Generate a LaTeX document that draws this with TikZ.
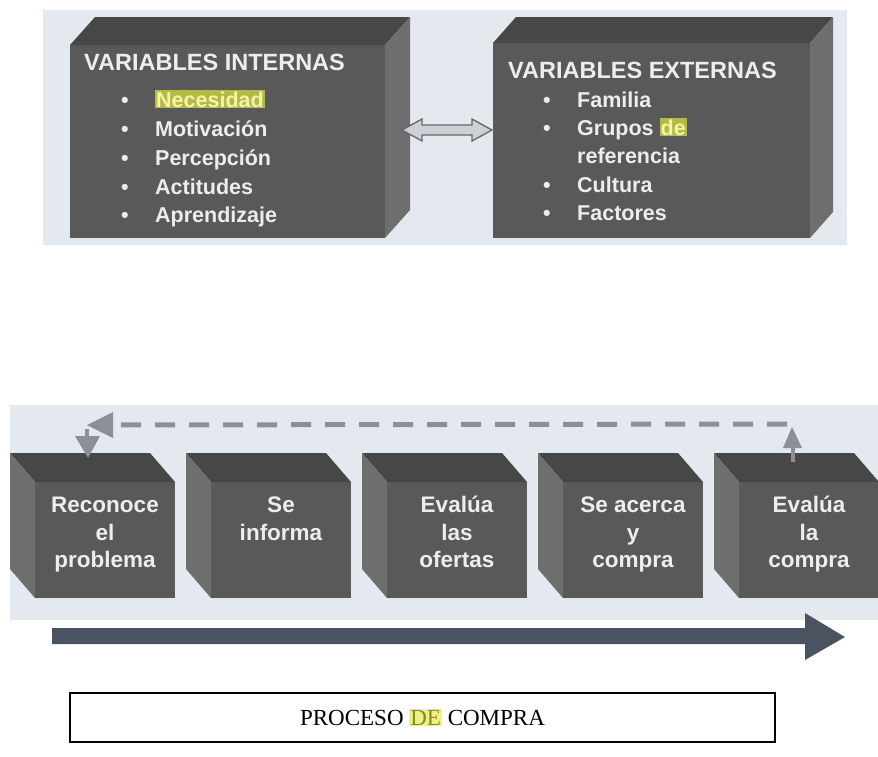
\documentclass[tikz,border=0pt]{standalone}
\usepackage{fontspec}
\setmainfont{Liberation Sans}
\newfontfamily\labelserif{Liberation Serif}
\usetikzlibrary{calc}
\definecolor{panel}{HTML}{E4E9F0}
\definecolor{frontc}{HTML}{595959}
\definecolor{topc}{HTML}{474747}
\definecolor{sidec}{HTML}{6E6E6E}
\definecolor{txtc}{HTML}{EDEDED}
\definecolor{hlbg}{HTML}{B6B84A}
\definecolor{hltx}{HTML}{F2F5A6}
\definecolor{hlbgB}{HTML}{F0F08A}
\definecolor{hltxB}{HTML}{8A8A1E}
\definecolor{fbc}{HTML}{8C9096}
\definecolor{bigarr}{HTML}{4B5362}
\definecolor{darr}{HTML}{CDD1D6}
\newcommand\hlword[3]{{\setlength{\fboxsep}{1pt}\colorbox{#1}{\color{#2}#3}}}
\begin{document}
\begin{tikzpicture}[x=1pt,y=-1pt,
  front/.style={fill=frontc, draw=none, inner sep=0pt, outer sep=0pt},
  toptxt/.style={text=txtc, font=\bfseries\fontsize{23.5}{28}\selectfont, inner sep=0pt, anchor=base west},
  itemtxt/.style={text=txtc, font=\bfseries\fontsize{21.5}{26}\selectfont, inner sep=0pt, anchor=base west},
  bul/.style={text=txtc, font=\bfseries\fontsize{21.5}{26}\selectfont, inner sep=0pt, anchor=base},
  boxtxt/.style={text=txtc, font=\bfseries\fontsize{22.5}{27}\selectfont, inner sep=0pt, anchor=base},
]
\useasboundingbox (0,0) rectangle (878,756);
\fill[white] (0,0) rectangle (878,756);
% panels
\fill[panel] (43,10) rectangle (847,245);
\fill[panel] (10,405) rectangle (878,620);

% ---- top boxes ----
\node[front, minimum width=315pt, minimum height=193pt] (vi) at (227.5,141.5) {};
\fill[topc] (vi.north west) -- (vi.north east) -- ++(25,-28) -- ++(-315,0) -- cycle;
\fill[sidec] (vi.north east) -- ++(25,-28) -- ++(0,193) -- (vi.south east) -- cycle;

\node[front, minimum width=317pt, minimum height=195pt] (ve) at (651.5,140.5) {};
\fill[topc] (ve.north west) -- (ve.north east) -- ++(23,-26) -- ++(-317,0) -- cycle;
\fill[sidec] (ve.north east) -- ++(23,-26) -- ++(0,195) -- (ve.south east) -- cycle;

% texts internas
\node[toptxt] (vit) at (84,70) {VARIABLES INTERNAS};
\node[bul] (vib1) at (125,107) {\textbullet};
\node[bul] (vib2) at (125,136) {\textbullet};
\node[bul] (vib3) at (125,165) {\textbullet};
\node[bul] (vib4) at (125,194) {\textbullet};
\node[bul] (vib5) at (125,222) {\textbullet};
\node[itemtxt] (vi1) at (155,107) {\hlword{hlbg}{hltx}{Necesidad}};
\node[itemtxt] (vi2) at (155,136) {Motivación};
\node[itemtxt] (vi3) at (155,165) {Percepción};
\node[itemtxt] (vi4) at (155,194) {Actitudes};
\node[itemtxt] (vi5) at (155,222) {Aprendizaje};

% texts externas
\node[toptxt] (vet) at (508,78) {VARIABLES EXTERNAS};
\node[bul] (veb1) at (547,107) {\textbullet};
\node[bul] (veb2) at (547,135) {\textbullet};
\node[bul] (veb3) at (547,192) {\textbullet};
\node[bul] (veb4) at (547,220) {\textbullet};
\node[itemtxt] (ve1) at (577,107) {Familia};
\node[itemtxt] (ve2) at (577,135) {Grupos \hlword{hlbg}{hltx}{de}};
\node[itemtxt] (ve2b) at (577,163) {referencia};
\node[itemtxt] (ve3) at (577,192) {Cultura};
\node[itemtxt] (ve4) at (577,220) {Factores};

% double arrow
\coordinate (dl) at (402,130);
\coordinate (dr) at (492,130);
\filldraw[fill=darr, draw=gray!80!black, line width=1.3pt, line join=miter]
  (dl) -- ++(20,-11) -- ++(0,6) -- ($(dr)+(-20,-5)$) -- ++(0,-6) -- (dr)
  -- ++(-20,11) -- ++(0,-6) -- ($(dl)+(20,5)$) -- ++(0,6) -- cycle;

% ---- bottom boxes ----
\foreach \i in {0,...,4}{
  \node[front, minimum width=140pt, minimum height=116pt] (b\i) at ({105+176*\i},540) {};
  \fill[topc] (b\i.north west) -- (b\i.north east) -- ++(-25,-29) -- ++(-140,0) -- cycle;
  \fill[sidec] (b\i.north west) -- ++(-25,-29) -- ++(0,116) -- (b\i.south west) -- cycle;
}
\node[boxtxt] (t0a) at ($(b0.north)+(0,30)$) {Reconoce};
\node[boxtxt] (t0b) at ($(b0.north)+(0,58)$) {el};
\node[boxtxt] (t0c) at ($(b0.north)+(0,85)$) {problema};
\node[boxtxt] (t1a) at ($(b1.north)+(0,30)$) {Se};
\node[boxtxt] (t1b) at ($(b1.north)+(0,58)$) {informa};
\node[boxtxt] (t2a) at ($(b2.north)+(0,30)$) {Evalúa};
\node[boxtxt] (t2b) at ($(b2.north)+(0,58)$) {las};
\node[boxtxt] (t2c) at ($(b2.north)+(0,85)$) {ofertas};
\node[boxtxt] (t3a) at ($(b3.north)+(0,30)$) {Se acerca};
\node[boxtxt] (t3b) at ($(b3.north)+(0,58)$) {y};
\node[boxtxt] (t3c) at ($(b3.north)+(0,85)$) {compra};
\node[boxtxt] (t4a) at ($(b4.north)+(0,30)$) {Evalúa};
\node[boxtxt] (t4b) at ($(b4.north)+(0,58)$) {la};
\node[boxtxt] (t4c) at ($(b4.north)+(0,85)$) {compra};

% ---- feedback dashed arrow ----
\coordinate (fbR) at (793,424);
\coordinate (fbL) at (87,425);
\coordinate (b4top) at (793,462);
\coordinate (b0top) at (88,458);
% up arrow from last box
\draw[fbc, line width=4pt] (b4top) -- ++(0,-14);
\fill[fbc] ($(b4top)+(-10,-14)$) -- ($(b4top)+(9,-14)$) -- ($(b4top)+(-1,-35)$) -- cycle;
% dashed line
\draw[fbc, line width=5pt, dash pattern=on 20pt off 14pt] ($(fbR)+(-6,0)$) -- ($(fbL)+(24,0)$);
% left-pointing head at corner
\fill[fbc] (fbL) -- ++(26,-13) -- ++(0,26) -- cycle;
% short shaft down and down-pointing head
\draw[fbc, line width=4pt] ($(fbL)+(0,4)$) -- ($(fbL)+(0,12)$);
\fill[fbc] ($(fbL)+(-12,11)$) -- ($(fbL)+(13,11)$) -- (b0top) -- cycle;

% ---- big arrow ----
\coordinate (baL) at (52,636);
\coordinate (baR) at (845,637);
\fill[bigarr] ($(baL)+(0,-8)$) -- ($(baR)+(-40,-9)$) -- ($(baR)+(-40,-24)$) -- (baR)
  -- ($(baR)+(-40,23)$) -- ($(baR)+(-40,7)$) -- ($(baL)+(0,8)$) -- cycle;

% ---- label ----
\node[draw=black, line width=1.5pt, fill=white, minimum width=705pt, minimum height=49pt,
  inner sep=0pt, font=\labelserif\fontsize{23}{27}\selectfont] (lbl) at (422.5,717.5)
  {PROCESO \hlword{hlbgB}{hltxB}{DE} COMPRA};
\end{tikzpicture}
\end{document}
